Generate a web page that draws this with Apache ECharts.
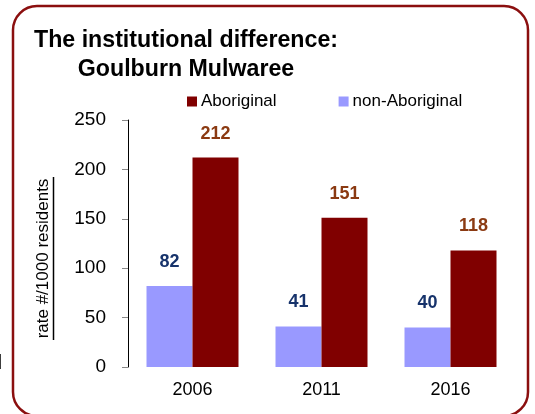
<!DOCTYPE html>
<html>
<head>
<meta charset="utf-8">
<script src="https://cdn.jsdelivr.net/npm/echarts@6/dist/echarts.min.js"></script>
<style>
html,body{margin:0;padding:0;background:#fff;}
#chart{width:535px;height:414px;}
</style>
</head>
<body>
<div id="chart"></div>
<script>
var categories = ['2006', '2011', '2016'];
var nonAboriginal = [82, 41, 40];
var aboriginal = [212, 151, 118];
var yTicks = [0, 50, 100, 150, 200, 250];
var yAxisTitle = 'rate #/1000 residents';

var chart = echarts.init(document.getElementById('chart'), null, {renderer: 'canvas'});
var FONT = '"Liberation Sans", Arial, Helvetica, sans-serif';

chart.setOption({
  animation: false,
  backgroundColor: '#fff',
  title: {
    text: 'The institutional difference:\nGoulburn Mulwaree',
    left: 181,
    top: 21,
    textAlign: 'center',
    textStyle: {fontFamily: FONT, fontSize: 23.2, fontWeight: 'bold', color: '#000', lineHeight: 29, align: 'center'}
  },
  legend: {
    data: ['Aboriginal', 'non-Aboriginal'],
    left: 182,
    top: 88,
    icon: 'rect',
    itemWidth: 10,
    itemHeight: 10,
    itemGap: 62,
    textStyle: {fontFamily: FONT, fontSize: 17, color: '#000', padding: [0, 0, 0, -1]}
  },
  grid: {left: 128, top: 120, width: 387, height: 247, containLabel: false},
  xAxis: {
    type: 'category',
    data: categories,
    axisLine: {show: false},
    axisTick: {show: false},
    axisLabel: {fontFamily: FONT, fontSize: 18, color: '#000', margin: 14}
  },
  yAxis: {
    type: 'value',
    min: yTicks[0],
    max: yTicks[yTicks.length - 1],
    interval: 50,
    axisLine: {show: true, lineStyle: {color: '#000', width: 1}},
    axisTick: {show: true, length: 6, lineStyle: {color: '#888'}},
    axisLabel: {fontFamily: FONT, fontSize: 19, color: '#000', margin: 22},
    splitLine: {show: false}
  },
  series: [
    {
      name: 'non-Aboriginal',
      type: 'bar',
      data: nonAboriginal,
      barWidth: 46,
      barGap: '0%',
      itemStyle: {color: '#9999FF'},
      label: {show: true, position: 'top', distance: 15, fontFamily: FONT, fontSize: 18, fontWeight: 'bold', color: '#17336B'}
    },
    {
      name: 'Aboriginal',
      type: 'bar',
      data: aboriginal,
      barWidth: 46,
      barGap: '0%',
      itemStyle: {color: '#800000'},
      label: {show: true, position: 'top', distance: 15, fontFamily: FONT, fontSize: 18, fontWeight: 'bold', color: '#8B3A12'}
    }
  ],
  graphic: [
    {
      type: 'rect',
      shape: {x: 13, y: 6, width: 515, height: 410, r: 24},
      style: {fill: 'none', stroke: '#8B0F0F', lineWidth: 2.5},
      silent: true,
      z: 100
    },
    {
      type: 'text',
      x: 52, y: 258.5,
      rotation: Math.PI / 2,
      style: {text: yAxisTitle, font: '17px ' + FONT, fill: '#000', textAlign: 'center', textVerticalAlign: 'bottom'},
      silent: true
    },
    {
      type: 'line',
      shape: {x1: 53.5, y1: 177, x2: 53.5, y2: 340},
      style: {stroke: '#000', lineWidth: 1.5},
      silent: true
    },
    {
      type: 'text',
      x: -9, y: 363,
      style: {text: 'd', font: '20px ' + FONT, fill: '#000', textVerticalAlign: 'middle'},
      silent: true
    }
  ]
});
</script>
</body>
</html>
